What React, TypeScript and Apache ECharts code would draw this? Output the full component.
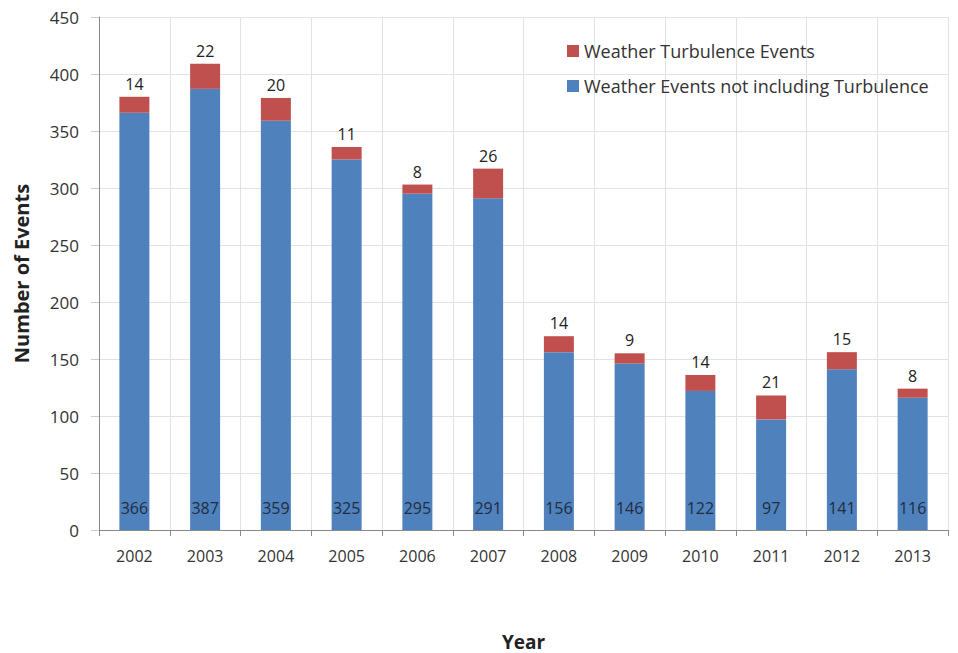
import React, { useEffect, useRef } from "react";
import * as echarts from "echarts";

const years = ["2002", "2003", "2004", "2005", "2006", "2007", "2008", "2009", "2010", "2011", "2012", "2013"];
const nonTurbulence = [366, 387, 359, 325, 295, 291, 156, 146, 122, 97, 141, 116];
const turbulence = [14, 22, 20, 11, 8, 26, 14, 9, 14, 21, 15, 8];

const FONT = "'Open Sans', Lato, sans-serif";
const BLUE = "#4F81BD";
const RED = "#C0504D";

export default function App() {
  const ref = useRef<HTMLDivElement>(null);

  useEffect(() => {
    if (!ref.current) return;
    const chart = echarts.init(ref.current, undefined, { renderer: "svg" });
    chart.setOption({
      animation: false,
      backgroundColor: "#ffffff",
      textStyle: { fontFamily: FONT },
      grid: {
        left: 99,
        right: 10,
        top: 17,
        bottom: 123,
        containLabel: false,
        outerBoundsMode: "none",
      },
      legend: {
        orient: "vertical",
        left: 562,
        top: 37,
        itemWidth: 12,
        itemHeight: 12,
        itemGap: 17,
        icon: "rect",
        textStyle: { fontFamily: FONT, fontSize: 18, color: "#333" },
        data: ["Weather Turbulence Events", "Weather Events not including Turbulence"],
      },
      xAxis: {
        type: "category",
        data: years,
        name: "Year",
        nameLocation: "middle",
        nameGap: 102,
        nameTextStyle: { fontFamily: FONT, fontSize: 19, fontWeight: "bold", color: "#222" },
        axisLine: { lineStyle: { color: "#888", width: 1 } },
        axisTick: { show: true, length: 6, lineStyle: { color: "#888" } },
        axisLabel: { fontFamily: FONT, fontSize: 16, color: "#333", margin: 18 },
        splitLine: { show: true, lineStyle: { color: "#e2e2e2", width: 1 } },
      },
      yAxis: {
        type: "value",
        min: 0,
        max: 450,
        interval: 50,
        name: "Number of Events",
        nameLocation: "middle",
        nameGap: 68,
        nameTextStyle: { fontFamily: FONT, fontSize: 20, fontWeight: "bold", color: "#222" },
        axisLine: { show: true, lineStyle: { color: "#888", width: 1 } },
        axisTick: { show: true, length: 8, lineStyle: { color: "#ccc" } },
        axisLabel: { fontFamily: FONT, fontSize: 17, color: "#333", margin: 20 },
        splitLine: { show: true, lineStyle: { color: "#e2e2e2", width: 1 } },
      },
      series: [
        {
          name: "Weather Events not including Turbulence",
          type: "bar",
          stack: "total",
          data: nonTurbulence,
          barWidth: 30,
          itemStyle: { color: BLUE },
          label: {
            show: true,
            position: "insideBottom",
            distance: 14,
            fontFamily: FONT,
            fontSize: 16,
            color: "#1f2d3d",
          },
        },
        {
          name: "Weather Turbulence Events",
          type: "bar",
          stack: "total",
          data: turbulence,
          barWidth: 30,
          itemStyle: { color: RED },
          label: {
            show: true,
            position: "top",
            distance: 5,
            fontFamily: FONT,
            fontSize: 16,
            color: "#222",
          },
        },
      ],
    });
    return () => chart.dispose();
  }, []);

  return (
    <div
      ref={ref}
      style={{ position: "fixed", left: 0, top: 0, width: 958, height: 653 }}
    />
  );
}
